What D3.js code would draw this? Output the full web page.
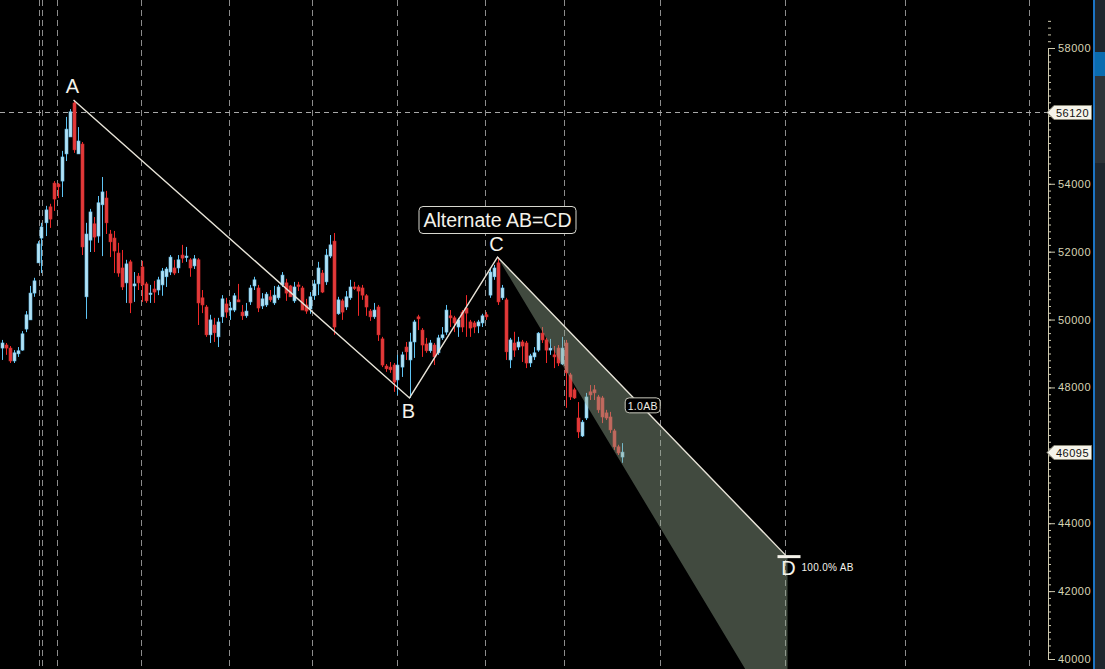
<!DOCTYPE html>
<html>
<head>
<meta charset="utf-8">
<script src="https://cdn.jsdelivr.net/npm/d3@7"></script>
<style>
  body { margin: 0; background: #000; overflow: hidden; }
  svg { display: block; }
</style>
</head>
<body>
<div id="chart"></div>
<script>
// daily candles, [open, high, low, close]
var bars = [
  [49160,49400,48810,49310],[49250,49310,48960,49160],[49160,49220,48720,48780],[48780,49100,48720,49020],
  [48990,49190,48900,49080],[49100,49660,49080,49580],[49720,50250,49630,50140],[49990,50990,49990,50780],
  [50780,51230,50670,51140],[51670,52310,51670,52230],[52400,52850,51370,52730],[52850,53350,52460,53230],
  [53320,53410,52700,52960],[54020,54080,53200,53550],[53990,54020,53580,53910],[54080,54970,53610,54790],
  [54880,55970,54670,55610],[55380,56200,55380,56120],[56380,56470,54910,55000],[54880,55670,54880,55260],
  [55170,55230,51900,52140],[50670,52850,50020,52520],[52340,53260,51990,53170],[52820,53020,51990,52430],
  [52460,53640,52260,53440],[53380,54200,51870,53760],[53580,53790,52520,52850],[52520,52640,51840,52290],
  [52400,52610,51370,52020],[51960,52260,51260,51370],[51520,52050,50870,50960],[51080,51760,50490,51640],
  [51700,51760,50190,50490],[50990,51400,50520,51050],[51280,51370,50870,51080],[51550,51730,50520,51020],
  [51050,51110,50490,50550],[50750,51020,50490,50780],[50900,51140,50490,50810],[50870,51260,50720,51170],
  [51020,51520,50700,51430],[51260,51550,50960,51490],[51400,51900,51310,51840],[51520,51760,51310,51370],
  [51520,51900,51370,51760],[51900,52200,51670,51810],[51840,52140,51700,51870],[51760,51810,51260,51520],
  [51580,51900,51490,51790],[51760,51810,49840,50490],[50640,50870,50190,50430],[50370,50430,49490,49550],
  [49550,50140,49310,49990],[49840,50050,49340,49610],[49490,50050,49190,49930],[50080,50720,49900,50610],
  [50460,50640,50050,50220],[50280,50520,49990,50340],[50280,50780,50220,50700],[50580,51050,50520,50520],
  [50220,50430,49990,50110],[50110,50490,50050,50250],[50520,51020,50430,50930],[50990,51260,50870,51170],
  [50930,51020,50220,50340],[50400,50780,50310,50610],[50430,50810,50370,50750],[50670,50870,50520,50580],
  [50490,50990,50430,50720],[50640,51020,50580,50960],[51020,51400,50960,51310],[51080,51200,50550,50780],
  [50990,51020,50670,50670],[50550,51110,50490,50960],[51020,51110,50840,50990],[50930,50990,50280,50280],
  [50430,50610,50170,50250],[50310,50810,50170,50670],[50700,51170,50580,51050],[51050,51700,50720,51520],
  [51370,51460,50780,50810],[51110,52080,51020,51900],[51870,52490,51810,52200],[52310,52550,49550,49780],
  [50170,50670,50140,50580],[50550,50610,49990,50220],[50370,50840,50280,50670],[50640,51170,50580,50960],
  [50960,51110,50870,50930],[50960,51020,50110,50840],[50930,51020,50580,50720],[50700,50750,50110,50370],
  [50250,50310,49960,50080],[50080,50490,50020,50280],[50370,50430,49370,49550],[49430,49490,48600,48660],
  [48630,48690,48460,48550],[48600,48750,48430,48520],[48660,48720,47870,48160],[48220,48960,47780,48660],
  [48600,49050,48310,48960],[49190,49340,48810,49050],[48810,49610,47690,49340],[49340,49990,48870,49930],
  [50080,50140,49690,50020],[49690,49750,48900,49250],[49280,49460,49020,49080],[49080,49400,49020,49310],
  [49250,49310,48660,48900],[49020,49550,48960,49460],[49460,49780,49400,49550],[49630,50430,49550,50280],
  [50110,50280,49780,50050],[50050,50110,49630,49900],[49780,50050,49490,49990],[50220,50280,49630,49780],
  [50340,50720,49490,50190],[49930,49990,49490,49750],[49900,49960,49600,49780],[49810,49990,49600,49930],
  [49900,50170,49780,50110],[50140,50220,49990,50080],[50720,51490,50640,51400],[51260,51610,51170,51520],
  [51670,51840,50430,50520],[50640,51020,50580,50930],[50580,50640,48810,49050],[48810,49460,48570,49400],
  [49310,49640,48900,49100],[49190,49490,49100,49340],[49340,49400,48750,49220],[49310,49370,48570,48720],
  [48720,48990,48600,48930],[48900,49190,48810,49020],[49100,49630,49050,49600],[49600,49780,49310,49400],
  [49400,49460,48720,49100],[49100,49430,48960,49160],[48960,49220,48570,48900],[49160,49250,48630,48720],
  [48690,49490,48660,49160],[49310,49400,47400,48430],[48370,48430,47630,47720],[47930,47990,47660,47690],
  [47100,47570,46510,46690],[46570,47040,46540,46980],[47100,47840,47040,47720],[47870,48070,47630,47780],
  [47930,48070,47630,47840],[47720,47780,47250,47340],[47690,47750,46950,47130],[47250,47340,47040,47100],
  [47130,47280,46660,46750],[46720,46780,46160,46250],[46250,46310,46010,46070],[45950,46360,45780,46095]
];

// session separators, in bar units
var gridBars = [9.375, 10.125, 13.875, 34.875, 56.875, 77.625, 98.875, 120.875, 140.625, 164.625, 195.875, 225.875, 256.875];

// 46000 and 56000 sit under the price flags
var yTicks = [40000, 42000, 44000, 48000, 50000, 52000, 54000, 58000];

// pattern pivots
var pivotNames = ["A", "B", "C"];
var pivotBars = [18, 102, 124];
var pivotPrices = [56470, 47690, 51840];
var dBar = 196;
var extRatios = [1.0, 1.618];

var refPrice = 56120;
var lastPrice = 46095;

var W = 1105, H = 669, axisX = 1048;

var svg = d3.select("#chart").append("svg")
    .attr("width", W)
    .attr("height", H)
    .style("background", "#000");

var x = d3.scaleLinear().domain([-0.375, 261.625]).range([0, axisX]);
var y = d3.scaleLinear().domain([40000, 58000]).range([659, 48]);

var plot = svg.append("g");

// vertical dashed separators
plot.selectAll(".vgrid")
    .data(gridBars)
    .enter().append("line")
    .attr("class", "vgrid")
    .attr("x1", function (d) { return Math.round(x(d)) + 0.5; })
    .attr("x2", function (d) { return Math.round(x(d)) + 0.5; })
    .attr("y1", 0).attr("y2", H)
    .attr("stroke", "#8c8c8c")
    .attr("stroke-dasharray", "6,4");

// horizontal ref line
plot.append("line")
    .attr("x1", 0).attr("x2", axisX)
    .attr("y1", Math.round(y(refPrice)) + 0.5)
    .attr("y2", Math.round(y(refPrice)) + 0.5)
    .attr("stroke", "#a8a8a8")
    .attr("stroke-dasharray", "5,4");

// candles
var candles = plot.selectAll(".candle")
    .data(bars)
    .enter().append("g")
    .attr("class", "candle");

function isUp(d) { return d[3] >= d[0]; }

candles.append("line")
    .attr("x1", function (d, i) { return Math.round(x(i)) + 0.5; })
    .attr("x2", function (d, i) { return Math.round(x(i)) + 0.5; })
    .attr("y1", function (d) { return y(d[1]); })
    .attr("y2", function (d) { return y(d[2]); })
    .attr("stroke", function (d) { return isUp(d) ? "#5ec4f4" : "#f02828"; });

candles.append("rect")
    .attr("x", function (d, i) { return Math.round(x(i)) - 1; })
    .attr("width", 3)
    .attr("y", function (d) { return y(Math.max(d[0], d[3])); })
    .attr("height", function (d) { return Math.max(1.5, Math.abs(y(d[0]) - y(d[3]))); })
    .attr("fill", function (d) { return isUp(d) ? "#b4e2f4" : "#e23a3a"; })
    .attr("stroke", function (d) { return isUp(d) ? "#6cc4ee" : "#d83030"; })
    .attr("stroke-width", 0.6);

// AB=CD projection
var pA = pivotPrices[0], pB = pivotPrices[1], pC = pivotPrices[2];
var ab = pA - pB;
var dPrices = extRatios.map(function (r) { return pC - r * ab; });

plot.append("path")
    .attr("d", d3.line()([
        [x(pivotBars[2]), y(pC)],
        [x(dBar), y(dPrices[0])],
        [x(dBar) + 2, y(dPrices[0])],
        [x(dBar) + 2, y(dPrices[1])],
        [x(pivotBars[2]), y(pC)]
    ]))
    .attr("fill", "#94a890")
    .attr("fill-opacity", 0.44);

var zig = pivotBars.map(function (b, i) { return [x(b), y(pivotPrices[i])]; });
zig.push([x(dBar), y(dPrices[0])]);

plot.append("path")
    .attr("d", d3.line()(zig))
    .attr("fill", "none")
    .attr("stroke", "#e8e4d8")
    .attr("stroke-width", 1.4);

// D marker bar
plot.append("rect")
    .attr("x", x(dBar) - 8).attr("width", 23)
    .attr("y", y(dPrices[0])).attr("height", 3)
    .attr("fill", "#f4f2ea");

// pivot labels
var labelDy = [-7, 20, -6];
plot.selectAll(".pivot")
    .data(pivotNames)
    .enter().append("text")
    .attr("class", "pivot")
    .attr("x", function (d, i) { return x(pivotBars[i]) - 1; })
    .attr("y", function (d, i) { return y(pivotPrices[i]) + labelDy[i]; })
    .attr("text-anchor", "middle")
    .attr("fill", "#f4f2ea")
    .style("font", "20px 'Liberation Sans', Arial, sans-serif")
    .text(function (d) { return d; });

plot.append("text")
    .attr("x", x(dBar) + 3)
    .attr("y", y(dPrices[0]) + 20)
    .attr("text-anchor", "middle")
    .attr("fill", "#f4f2ea")
    .style("font", "20px 'Liberation Sans', Arial, sans-serif")
    .text("D");

plot.append("text")
    .attr("x", x(dBar) + 16)
    .attr("y", y(dPrices[0]) + 16)
    .attr("fill", "#f4f2ea")
    .style("font", "10px 'Liberation Sans', Arial, sans-serif")
    .style("letter-spacing", "0.3px")
    .text("100.0% AB");

// title box
var tb = plot.append("g").attr("transform", "translate(" + x(pivotBars[2]) + ",220)");
tb.append("rect")
    .attr("x", -78.5).attr("y", -13.5)
    .attr("width", 157).attr("height", 27)
    .attr("rx", 4)
    .attr("fill", "#000")
    .attr("stroke", "#d8d8d0");
tb.append("text")
    .attr("y", 7)
    .attr("text-anchor", "middle")
    .attr("fill", "#f4f2ea")
    .style("font", "19.5px 'Liberation Sans', Arial, sans-serif")
    .text("Alternate AB=CD");

// 1.0AB tag on projection line
var tagBar = 160.3;
var tagPrice = pC - (pC - dPrices[0]) * (tagBar - pivotBars[2]) / (dBar - pivotBars[2]);
var tg = plot.append("g").attr("transform", "translate(" + x(tagBar) + "," + y(tagPrice) + ")");
tg.append("rect")
    .attr("x", -17.5).attr("y", -9.5)
    .attr("width", 35).attr("height", 15)
    .attr("rx", 4)
    .attr("fill", "#000")
    .attr("stroke", "#c8c8bc");
tg.append("text")
    .attr("y", 2.5)
    .attr("text-anchor", "middle")
    .attr("fill", "#f0eee4")
    .style("font", "10.5px 'Liberation Sans', Arial, sans-serif")
    .style("letter-spacing", "0.3px")
    .text("1.0AB");

// price axis
var minor = d3.range(40000, 58801, 200);
svg.append("g")
    .attr("transform", "translate(" + axisX + ",0)")
    .call(d3.axisRight(y).tickValues(minor).tickSize(3).tickFormat(""))
    .call(function (g) {
        g.select(".domain").attr("stroke", "#cfcab0");
        g.selectAll(".tick line").attr("stroke", "#cfcab0");
    });

var major = svg.append("g")
    .attr("transform", "translate(" + axisX + ",0)")
    .call(d3.axisRight(y).tickValues(yTicks).tickSize(7).tickPadding(3).tickFormat(d3.format("d")));
major.select(".domain").remove();
major.selectAll(".tick line").attr("stroke", "#cfcab0");
major.selectAll(".tick text")
    .attr("fill", "#d8d4b4")
    .style("font", "11px 'Liberation Sans', Arial, sans-serif")
    .style("letter-spacing", "0.5px");

// price flags
function flag(price) {
    var yy = Math.round(y(price)) + 0.5;
    var g = svg.append("g").attr("transform", "translate(0," + yy + ")");
    g.append("path")
        .attr("d", "M" + (axisX - 1) + ",0 L" + (axisX + 6) + ",-7 L1091.5,-7 L1091.5,7 L" + (axisX + 6) + ",7 Z")
        .attr("fill", "#f6f4ea")
        .attr("stroke", "#8a8878");
    g.append("text")
        .attr("x", axisX + 8)
        .attr("y", 4)
        .attr("fill", "#111")
        .style("font", "11px 'Liberation Sans', Arial, sans-serif")
        .style("letter-spacing", "0.5px")
        .text(price);
}
flag(refPrice);
flag(lastPrice);

// side panel
var side = svg.append("g");
side.append("rect").attr("x", 1093).attr("y", 0).attr("width", 12).attr("height", H).attr("fill", "#1f262e");
side.append("rect").attr("x", 1093).attr("y", 0).attr("width", 2).attr("height", H).attr("fill", "#1c74c4");
side.append("rect").attr("x", 1095).attr("y", 52).attr("width", 10).attr("height", 24).attr("fill", "#0a6cb0");
side.append("rect").attr("x", 1095).attr("y", 76).attr("width", 10).attr("height", 87).attr("fill", "#2e3338");
</script>
</body>
</html>
